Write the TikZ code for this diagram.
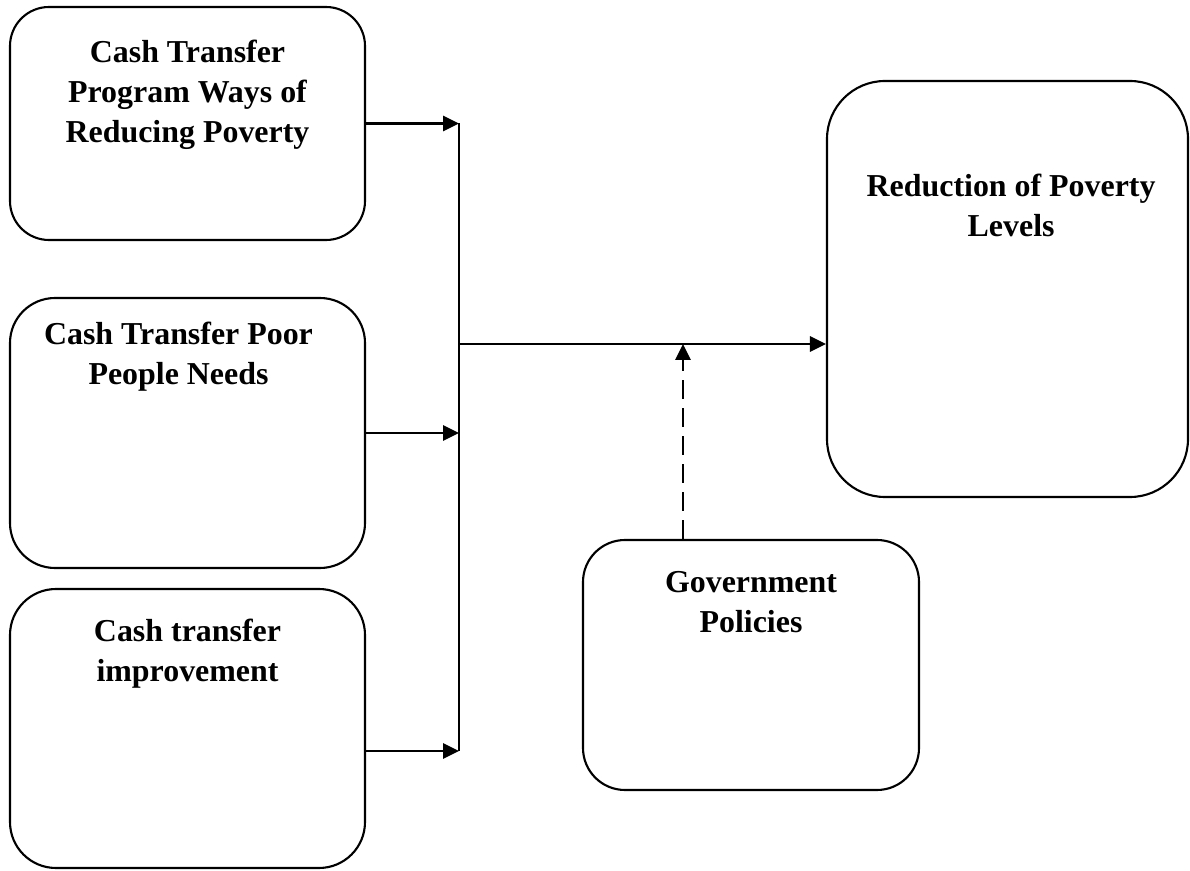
\documentclass[tikz,border=0pt]{standalone}
\usepackage{fontspec}
\setmainfont{Liberation Serif}
\usetikzlibrary{positioning,arrows.meta}

\begin{document}
\begin{tikzpicture}[
        box/.style={draw, line width=1.5pt, inner sep=0pt},
        boxtext/.style={align=center, inner sep=0pt, font=\fontsize{22.7}{28.45}\selectfont\bfseries},
        link/.style={line width=1.9pt, -{Triangle[length=0.4cm,width=0.38cm]}}
    ]
        \useasboundingbox (0,0) rectangle (29.75,-21.775);

        % the three cash transfer boxes on the left
        \node[box, rounded corners=0.975cm, minimum width=8.875cm, minimum height=5.825cm] (ways) at (4.6875,-3.0875) {};
        \node[box, rounded corners=1.125cm, minimum width=8.875cm, minimum height=6.75cm] (needs) at (4.6875,-10.825) {};
        \node[box, rounded corners=1.15cm, minimum width=8.875cm, minimum height=6.975cm] (improve) at (4.6875,-18.2125) {};

        % outcome and moderator
        \node[box, rounded corners=1.45cm, minimum width=9.025cm, minimum height=10.4cm] (povred) at (25.1875,-7.225) {};
        \node[box, rounded corners=1.05cm, minimum width=8.4cm, minimum height=6.25cm] (govpol) at (18.775,-16.625) {};

        \node[boxtext, below=0.85cm of ways.north] (waystext) {Cash Transfer\\Program Ways of\\Reducing Poverty};
        \node[boxtext, below=0.625cm of needs.north, xshift=-0.225cm] (needstext) {Cash Transfer Poor\\People Needs};
        \node[boxtext, below=0.775cm of improve.north] (improvetext) {Cash transfer\\improvement};
        \node[boxtext, below=2.35cm of povred.north, xshift=0.09cm] (povredtext) {Reduction of Poverty\\Levels};
        \node[boxtext, below=0.8cm of govpol.north] (govpoltext) {Government\\Policies};

        % bus line and junctions
        \coordinate (bus) at (11.475,0);
        \coordinate (in3) at ([yshift=-0.5625cm]improve.east);
        \coordinate (join) at (11.475,-8.6);
        \coordinate (tap) at (17.075,-8.6);

        \draw[link] (ways.east) -- (ways.east -| bus);
        \draw[link] (needs.east) -- (needs.east -| bus);
        \draw[link] (in3) -- (in3 -| bus);
        \draw[line width=1.9pt] (ways.east -| bus) -- (in3 -| bus);

        \draw[link] (join) -- (join -| povred.west);
        \draw[link, dash pattern=on 0.48cm off 0.22cm] (tap |- govpol.north) -- (tap);
    \end{tikzpicture}
\end{document}
